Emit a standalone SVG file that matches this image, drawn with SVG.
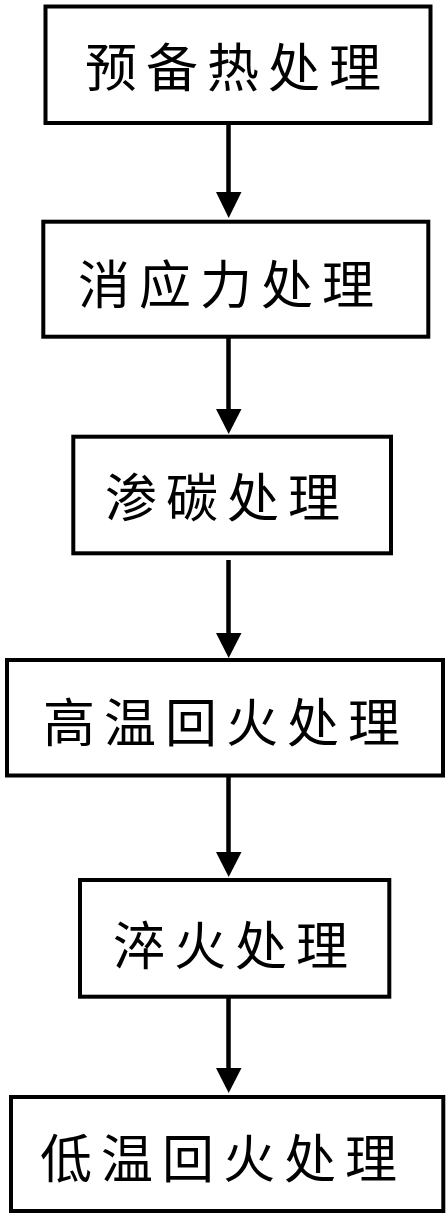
<svg xmlns="http://www.w3.org/2000/svg" width="448" height="1214" viewBox="0 0 448 1214">
<style>
.box{fill:#fff;stroke:#000;stroke-width:4}
.lbl{font-family:"Noto Sans CJK SC","Noto Sans CJK JP",sans-serif;font-size:52px;letter-spacing:9px;fill:#000}
.ln{stroke:#000;stroke-width:4.5;fill:none}
.hd{fill:#000}
</style>
<rect width="448" height="1214" fill="#fff"/>
<g id="n1"><rect class="box" x="45.5" y="6.5" width="385" height="116.5"/><text class="lbl" x="85" y="87">预备热处理</text></g>
<g id="n2"><rect class="box" x="43.3" y="221.7" width="385" height="115"/><text class="lbl" x="78" y="303.5">消应力处理</text></g>
<g id="n3"><rect class="box" x="73.3" y="436.7" width="317.7" height="116.6"/><text class="lbl" x="105" y="516.5">渗碳处理</text></g>
<g id="n4"><rect class="box" x="7" y="660" width="436" height="115.5"/><text class="lbl" x="43" y="741.5">高温回火处理</text></g>
<g id="n5"><rect class="box" x="80" y="880" width="309.3" height="116.7"/><text class="lbl" x="113" y="964.5">淬火处理</text></g>
<g id="n6"><rect class="box" x="11" y="1097" width="432.3" height="114"/><text class="lbl" x="40" y="1177.5">低温回火处理</text></g>
<g id="edges">
<line class="ln" x1="228.5" y1="123" x2="228.5" y2="194"/><polygon class="hd" points="216,192 241.5,192 228.7,218"/>
<line class="ln" x1="228.5" y1="337" x2="228.5" y2="411"/><polygon class="hd" points="216,409 241.5,409 228.7,434"/>
<line class="ln" x1="228.5" y1="560" x2="228.5" y2="635"/><polygon class="hd" points="216,633 241.5,633 228.7,658"/>
<line class="ln" x1="228.5" y1="776" x2="228.5" y2="854"/><polygon class="hd" points="216,852 241.5,852 228.7,877"/>
<line class="ln" x1="228.5" y1="997" x2="228.5" y2="1070"/><polygon class="hd" points="216,1068 241.5,1068 228.7,1093"/>
</g>
</svg>
